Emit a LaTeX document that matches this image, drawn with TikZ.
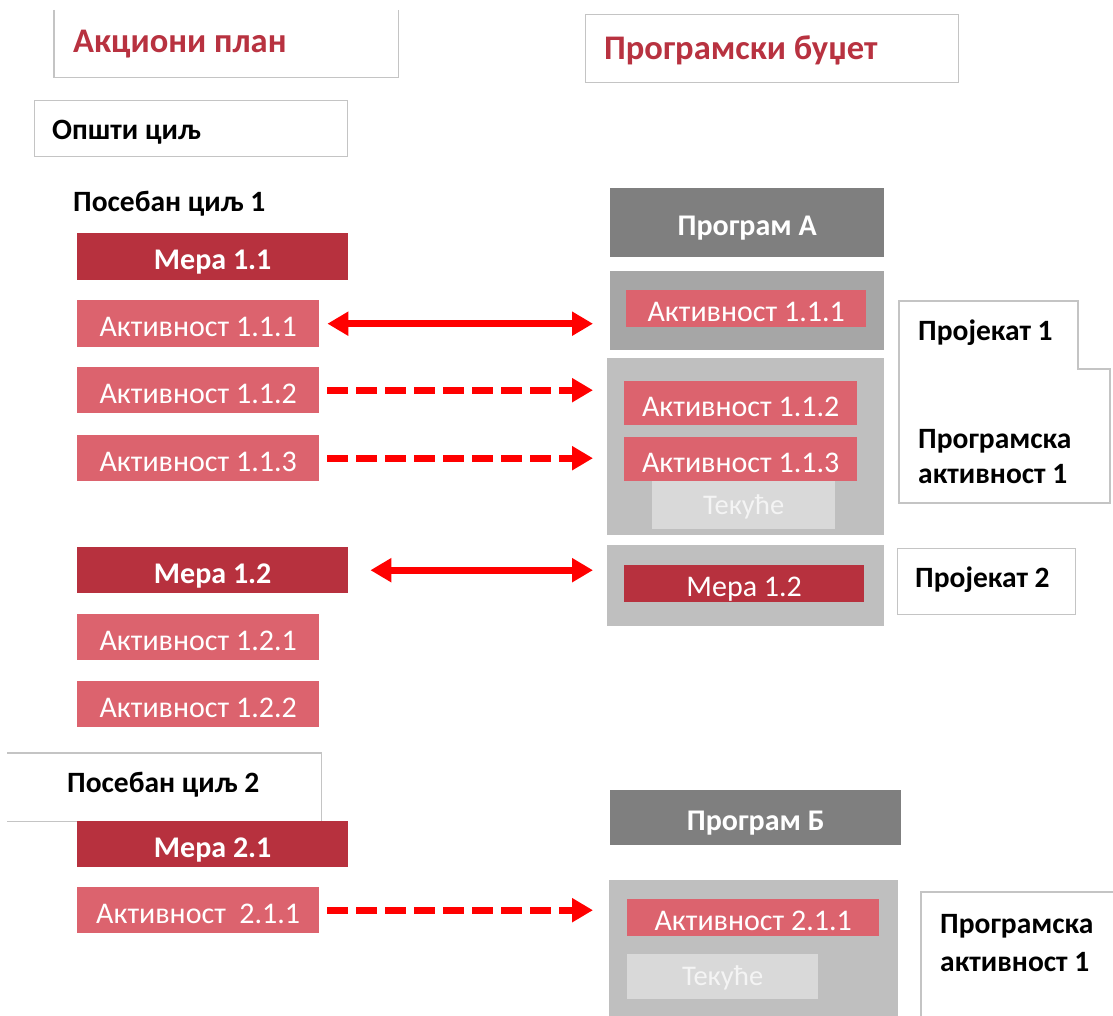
\documentclass[tikz,border=0pt]{standalone}
\usepackage{fontspec}
\setmainfont{Carlito}
\usetikzlibrary{arrows.meta}
\definecolor{titlered}{HTML}{B83240}
\definecolor{meradark}{HTML}{B7313E}
\definecolor{aktlight}{HTML}{DC636E}
\definecolor{proggray}{HTML}{7F7F7F}
\definecolor{grayA}{HTML}{A6A6A6}
\definecolor{grayB}{HTML}{BFBFBF}
\definecolor{tekfill}{HTML}{D9D9D9}
\definecolor{tektext}{HTML}{F4F4F4}
\definecolor{frame}{HTML}{C4C4C4}
\definecolor{linkred}{HTML}{FF0000}
\tikzset{
  box/.style={rectangle, inner sep=0pt, anchor=north west, text depth=0pt},
  framebox/.style={box, draw=frame, line width=1.3pt},
  plainbox/.style={box},
  meraBox/.style={box, fill=meradark, text=white, text height=26.3pt, font=\fontsize{30}{34}\selectfont\bfseries},
  meraIn/.style={box, fill=meradark, text=white, text height=26.3pt, font=\fontsize{30}{34}\selectfont},
  aktBox/.style={box, fill=aktlight, text=white, text height=26.3pt, font=\fontsize{30}{34}\selectfont},
  tekBox/.style={box, fill=tekfill, text=tektext, text height=18.3pt, font=\fontsize{28.5}{32}\selectfont},
  progBox/.style={box, fill=proggray, text=white, text height=26.3pt, font=\fontsize{30}{34}\selectfont\bfseries},
  shellA/.style={box, fill=grayA},
  shellB/.style={box, fill=grayB},
  titletext/.style={inner sep=0pt, anchor=base west, text=titlered, font=\fontsize{34.5}{40}\selectfont\bfseries},
  labeltext/.style={inner sep=0pt, anchor=base west, text=black, font=\fontsize{29.5}{34}\selectfont\bfseries},
  framepath/.style={draw=frame, line width=1.3pt},
  link/.style={draw=linkred, line width=7pt},
  linktwo/.style={link, {Triangle[length=21pt,width=23pt]}-{Triangle[length=21pt,width=23pt]}},
  linkone/.style={link, dash pattern=on 21pt off 8pt, -{Triangle[length=21pt,width=23pt]}},
}
\begin{document}
\begin{tikzpicture}[x=1pt,y=-1pt]
\useasboundingbox[fill=white] (0,0) rectangle (1113,1016);

% ---------- Action plan column ----------
\node[plainbox, minimum width=344pt, minimum height=67pt] (apbox) at (54,10) {};
\draw[framepath] (apbox.north west) -- (apbox.south west) -- (apbox.south east) -- (apbox.north east);
\node[titletext] (aptext) at (73,53) {Акциони план};

\node[framebox, minimum width=313pt, minimum height=56pt] (ogbox) at (34,100) {};
\node[labeltext] (ogtext) at (52,140) {Општи циљ};

\node[labeltext] (pc1text) at (73,212) {Посебан циљ 1};

\node[meraBox, minimum width=271pt, minimum height=47pt] (m11) at (77,233) {Мера 1.1};
\node[aktBox, minimum width=242pt, minimum height=47pt] (a111) at (77,300) {Активност 1.1.1};
\node[aktBox, minimum width=242pt, minimum height=46pt] (a112) at (77,367) {Активност 1.1.2};
\node[aktBox, minimum width=242pt, minimum height=46pt] (a113) at (77,435) {Активност 1.1.3};

\node[meraBox, minimum width=271pt, minimum height=46pt] (m12) at (77,547) {Мера 1.2};
\node[aktBox, minimum width=242pt, minimum height=46pt] (a121) at (77,614) {Активност 1.2.1};
\node[aktBox, minimum width=242pt, minimum height=46pt] (a122) at (77,681) {Активност 1.2.2};

\node[plainbox, minimum width=314pt, minimum height=68pt] (pc2box) at (7,753) {};
\draw[framepath] (pc2box.north west) -- (pc2box.north east) -- (pc2box.south east) -- (pc2box.south west);
\node[labeltext] (pc2text) at (67,792) {Посебан циљ 2};

\node[meraBox, minimum width=271pt, minimum height=46pt] (m21) at (77,821) {Мера 2.1};
\node[aktBox, minimum width=242pt, minimum height=46pt] (a211) at (77,887) {Активност\ \ 2.1.1};

% ---------- Programme budget column ----------
\node[framebox, minimum width=373pt, minimum height=68pt] (pbbox) at (585,14) {};
\node[titletext] (pbtext) at (604,60) {Програмски буџет};

\node[progBox, minimum width=274pt, minimum height=69pt] (progA) at (610,188) {Програм А};

\node[shellA, minimum width=274pt, minimum height=79pt] (shA) at (610,271) {};
\node[aktBox, minimum width=240pt, minimum height=37pt] (r111) at (626,290) {Активност 1.1.1};

\node[shellB, minimum width=277pt, minimum height=177pt] (shB) at (607,358) {};
\node[aktBox, minimum width=233pt, minimum height=44pt] (r112) at (624,381) {Активност 1.1.2};
\node[aktBox, minimum width=233pt, minimum height=44pt] (r113) at (624,437) {Активност 1.1.3};
\node[tekBox, minimum width=183pt, minimum height=48pt] (tek1) at (652,481) {Текуће};

\node[shellB, minimum width=277pt, minimum height=81pt] (shC) at (607,545) {};
\node[meraIn, minimum width=240pt, minimum height=37pt] (r12) at (624,565) {Мера 1.2};

\node[progBox, minimum width=291pt, minimum height=55pt] (progB) at (610,790) {Програм Б};

\node[shellB, minimum width=289pt, minimum height=137pt] (shD) at (609,880) {};
\node[aktBox, minimum width=252pt, minimum height=37pt] (r211) at (627,899) {Активност 2.1.1};
\node[tekBox, minimum width=191pt, minimum height=45pt] (tek2) at (627,954) {Текуће};

% ---------- Project / programme activity labels ----------
\draw[framepath] (899,301) -- (1078,301) -- (1078,369) -- (1110,369) -- (1110,503) -- (899,503) -- cycle;
\node[labeltext] (proj1) at (918,340) {Пројекат 1};
\node[labeltext] (pa1a) at (918,448) {Програмска};
\node[labeltext] (pa1b) at (918,483) {активност 1};

\node[framebox, minimum width=178pt, minimum height=66pt] (proj2box) at (897,548) {};
\node[labeltext] (proj2) at (915,587) {Пројекат 2};

\node[plainbox, minimum width=200pt, minimum height=130pt] (pa2box) at (921,892) {};
\draw[framepath] (pa2box.south west) -- (pa2box.north west) -- (pa2box.north east);
\node[labeltext] (pa2a) at (940,933) {Програмска};
\node[labeltext] (pa2b) at (940,971) {активност 1};

% ---------- Links between the plan and the budget ----------
\draw[linktwo, shorten <=8pt, shorten >=17pt] (a111.east) -- (a111.east -| shA.west);
\draw[linkone, shorten <=8pt, shorten >=14pt] (a112.east) -- (a112.east -| shB.west);
\draw[linkone, shorten <=8pt, shorten >=14pt] (a113.east) -- (a113.east -| shB.west);
\draw[linktwo, shorten <=22pt, shorten >=14pt] (m12.east) -- (m12.east -| shC.west);
\draw[linkone, shorten <=8pt, shorten >=16pt] (a211.east) -- (a211.east -| shD.west);
\end{tikzpicture}
\end{document}
